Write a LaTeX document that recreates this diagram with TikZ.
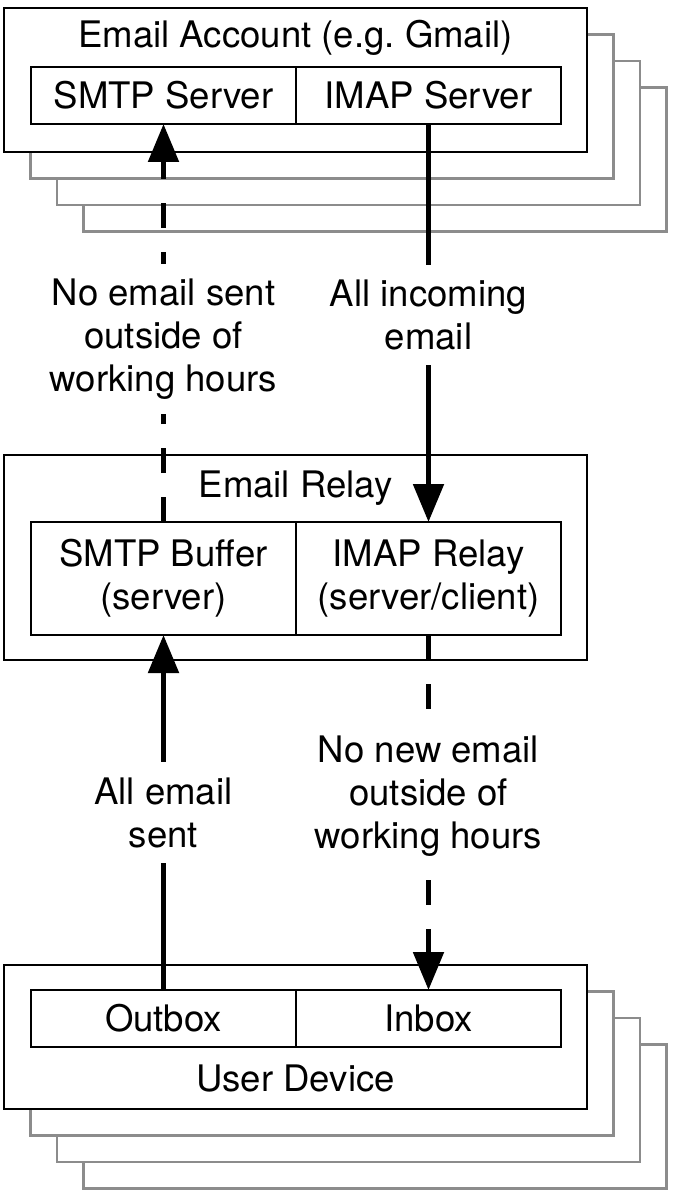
\documentclass[tikz,border=0pt]{standalone}
\usepackage{fontspec}
\setmainfont{TeX Gyre Heros}
\usetikzlibrary{arrows.meta,positioning}

\tikzset{
  frame/.style={draw=black, fill=white, line width=1.4pt},
  stack/.style={draw=black!45, fill=white, line width=1.2pt},
  txt/.style={font=\fontsize{20.8}{24.5}\selectfont, align=center},
  half/.style={txt, draw=black, line width=1.4pt, outer sep=0pt, inner sep=0pt,
    minimum width=5.3cm, minimum height=1.14cm},
  flow/.style={line width=0.105cm, -{Triangle[length=0.76cm,width=0.6cm]}},
  offhours/.style={flow, dash pattern=on 0.5cm off 0.48cm},
  note/.style={txt, fill=white, inner xsep=2pt, inner ysep=0.3cm},
}

\begin{document}
\begin{tikzpicture}
                \useasboundingbox (0,0) rectangle (13.44,-24);
                % email account, with the stack of accounts behind it
                \foreach \k in {3,2,1}
                    \filldraw[stack, shift={(0.53*\k,-0.53*\k)}] (0.08,-0.16) rectangle (11.74,-3.04);
                \filldraw[frame] (0.08,-0.16) rectangle (11.74,-3.04);
                \node[txt] (account) at (5.91,-0.76) {Email Account (e.g.\ Gmail)};
                \node[half] (smtpsrv) at (3.27,-1.91) {SMTP Server};
                \node[half, right=0pt of smtpsrv] (imapsrv) {IMAP Server};
                % email relay
                \filldraw[frame] (0.08,-9.10) rectangle (11.74,-13.20);
                \node[txt] (relay) at (5.91,-9.77) {Email Relay};
                \node[half, minimum height=2.26cm] (smtpbuf) at (3.27,-11.57) {SMTP Buffer\\(server)};
                \node[half, minimum height=2.26cm, right=0pt of smtpbuf] (imaprel) {IMAP Relay\\(server/client)};
                % user device, with the stack of devices behind it
                \foreach \k in {3,2,1}
                    \filldraw[stack, shift={(0.53*\k,-0.53*\k)}] (0.08,-19.30) rectangle (11.74,-22.18);
                \filldraw[frame] (0.08,-19.30) rectangle (11.74,-22.18);
                \node[half] (outbox) at (3.27,-20.37) {Outbox};
                \node[half, right=0pt of outbox] (inbox) {Inbox};
                \node[txt] (device) at (5.91,-21.56) {User Device};
                % flows
                \draw[offhours] (smtpbuf.north) -- node[note, pos=0.46] (nosent) {No email sent\\outside of\\working hours} (smtpsrv.south);
                \draw[flow] (imapsrv.south) -- node[note, pos=0.48] (allin) {All incoming\\email} (imaprel.north);
                \draw[flow] (outbox.north) -- node[note, pos=0.5] (allsent) {All email\\sent} (smtpbuf.south);
                \draw[offhours] (imaprel.south) -- node[note, pos=0.455] (nonew) {No new email\\outside of\\working hours} (inbox.north);
            \end{tikzpicture}
\end{document}
